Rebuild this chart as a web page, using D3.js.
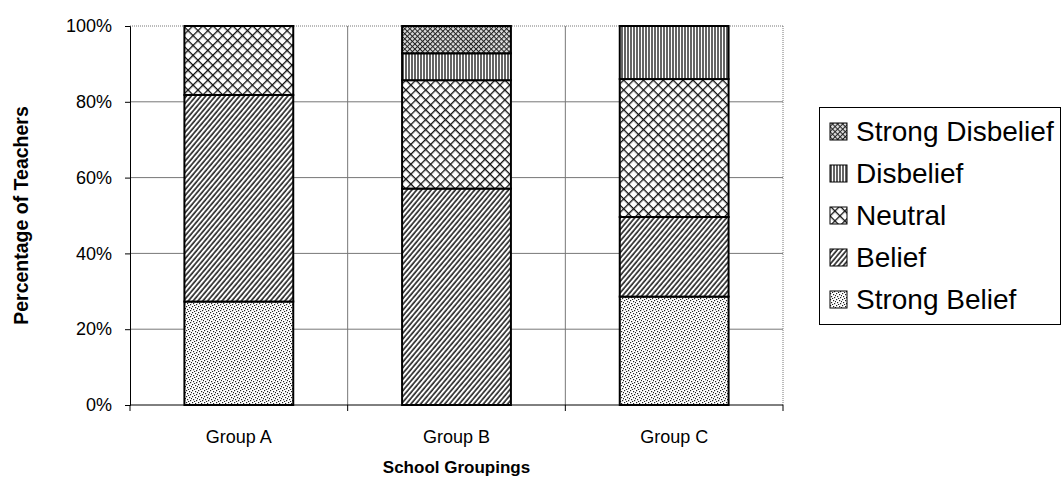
<!DOCTYPE html>
<html><head><meta charset="utf-8">
<script src="https://cdn.jsdelivr.net/npm/d3@7"></script>
<style>
body{margin:0;background:#fff;}
svg{display:block;font-family:Arial,"Liberation Sans",sans-serif;}
</style></head>
<body><svg id="c" width="1063" height="479"></svg>
<script>
const groups = ["Group A","Group B","Group C"];
const strongBelief    = [27.3, 0,    28.6];
const belief          = [54.5, 57.1, 21.0];
const neutral         = [18.2, 28.6, 36.4];
const disbelief       = [0,    7.1,  14.0];
const strongDisbelief = [0,    7.2,  0];
const seriesNames = ["Strong Belief","Belief","Neutral","Disbelief","Strong Disbelief"];
const yTicks = [0,0.2,0.4,0.6,0.8,1];

const seriesVals = [strongBelief, belief, neutral, disbelief, strongDisbelief];
const table = groups.map((g,i)=>{const o={group:g}; seriesNames.forEach((s,k)=>o[s]=seriesVals[k][i]/100); return o;});
const stacked = d3.stack().keys(seriesNames)(table);

const svg = d3.select("#c");
const L=130,R=783,T=26,B=405;
const x = d3.scaleBand().domain(groups).range([L,R]).padding(0);
const y = d3.scaleLinear().domain([0,1]).range([B,T]);

// patterns
const defs = svg.append("defs");
const pid = {"Strong Belief":"pSB","Belief":"pB","Neutral":"pN","Disbelief":"pD","Strong Disbelief":"pSD"};
{
  const p = defs.append("pattern").attr("id","pSB").attr("patternUnits","userSpaceOnUse").attr("width",6).attr("height",6);
  p.append("rect").attr("width",6).attr("height",6).attr("fill","#fff");
  [[0,0],[3,1],[1,3],[4,4],[2,5],[5,2]].forEach(([a,b])=>p.append("rect").attr("x",a).attr("y",b).attr("width",1.2).attr("height",1.2).attr("fill","#222"));
}
{
  const w=3.7;
  const p = defs.append("pattern").attr("id","pB").attr("patternUnits","userSpaceOnUse").attr("width",w).attr("height",10).attr("patternTransform","rotate(40)");
  p.append("rect").attr("width",w).attr("height",10).attr("fill","#fff");
  p.append("line").attr("x1",1).attr("x2",1).attr("y1",0).attr("y2",10).attr("stroke","#111").attr("stroke-width",1.5);
}
{
  const s=7;
  const p = defs.append("pattern").attr("id","pN").attr("patternUnits","userSpaceOnUse").attr("width",s).attr("height",s).attr("patternTransform","rotate(45)");
  p.append("rect").attr("width",s).attr("height",s).attr("fill","#fff");
  p.append("line").attr("x1",0).attr("x2",s).attr("y1",0.6).attr("y2",0.6).attr("stroke","#111").attr("stroke-width",1.4);
  p.append("line").attr("y1",0).attr("y2",s).attr("x1",0.6).attr("x2",0.6).attr("stroke","#111").attr("stroke-width",1.4);
}
{
  const p = defs.append("pattern").attr("id","pD").attr("patternUnits","userSpaceOnUse").attr("width",3).attr("height",10);
  p.append("rect").attr("width",3).attr("height",10).attr("fill","#fff");
  p.append("line").attr("x1",1).attr("x2",1).attr("y1",0).attr("y2",10).attr("stroke","#111").attr("stroke-width",1.3);
}
{
  const s=3.6;
  const p = defs.append("pattern").attr("id","pSD").attr("patternUnits","userSpaceOnUse").attr("width",s).attr("height",s).attr("patternTransform","rotate(45)");
  p.append("rect").attr("width",s).attr("height",s).attr("fill","#ddd");
  p.append("line").attr("x1",0).attr("x2",s).attr("y1",0.5).attr("y2",0.5).attr("stroke","#222").attr("stroke-width",1);
  p.append("line").attr("y1",0).attr("y2",s).attr("x1",0.5).attr("x2",0.5).attr("stroke","#222").attr("stroke-width",1);
}

// gridlines
const grid = svg.append("g");
grid.selectAll("line.h").data(yTicks.filter(v=>v>0 && v<1)).join("line")
  .attr("x1",L).attr("x2",R).attr("y1",d=>y(d)).attr("y2",d=>y(d)).attr("stroke","#777").attr("stroke-width",1);
grid.append("line").attr("x1",L).attr("x2",R).attr("y1",y(1)).attr("y2",y(1)).attr("stroke","#777").attr("stroke-dasharray","1,1");
const bounds = groups.slice(1).map(g=>x(g)).concat([R]);
grid.selectAll("line.v").data(bounds).join("line")
  .attr("x1",d=>d).attr("x2",d=>d).attr("y1",T).attr("y2",B).attr("stroke","#777").attr("stroke-width",1)
  .attr("stroke-dasharray",(d,i)=>i===bounds.length-1?"1,1":null);

// bars
const bw = x.bandwidth()*0.5;
stacked.forEach(layer=>{
  svg.append("g").selectAll("rect").data(layer.filter(d=>d[1]-d[0]>0)).join("rect")
    .attr("x",d=>x(d.data.group)+x.bandwidth()/2-bw/2)
    .attr("width",bw)
    .attr("y",d=>y(d[1]))
    .attr("height",d=>y(d[0])-y(d[1]))
    .attr("fill",`url(#${pid[layer.key]})`)
    .attr("stroke","#000").attr("stroke-width",2);
});

// y axis
const ya = svg.append("g").attr("transform",`translate(${L},0)`)
  .call(d3.axisLeft(y).tickValues(yTicks).tickFormat(d3.format(".0%")).tickSize(5).tickPadding(13));
ya.select(".domain").attr("stroke","#000");
ya.selectAll("text").attr("font-size",18).attr("fill","#000").attr("font-family","Arial, 'Liberation Sans', sans-serif");

// x axis: ticks at category boundaries
const xa = svg.append("g").attr("transform",`translate(0,${B})`);
xa.append("line").attr("x1",L).attr("x2",R).attr("stroke","#000");
xa.selectAll("line.t").data([L].concat(bounds)).join("line")
  .attr("x1",d=>d).attr("x2",d=>d).attr("y1",0).attr("y2",6).attr("stroke","#000");
xa.selectAll("text").data(groups).join("text")
  .attr("x",d=>x(d)+x.bandwidth()/2).attr("y",38).attr("text-anchor","middle")
  .attr("font-size",18).text(d=>d);

// axis titles
svg.append("text").attr("x",(L+R)/2).attr("y",473).attr("text-anchor","middle")
  .attr("font-size",17).attr("font-weight","bold").text("School Groupings");
svg.append("text").attr("transform",`translate(28,${(T+B)/2}) rotate(-90)`).attr("text-anchor","middle")
  .attr("font-size",19.5).attr("font-weight","bold").text("Percentage of Teachers");

// legend
const lg = svg.append("g");
lg.append("rect").attr("x",819.5).attr("y",107.5).attr("width",241).attr("height",217).attr("fill","#fff").attr("stroke","#000");
const legendOrder = seriesNames.slice().reverse();
const items = lg.selectAll("g").data(legendOrder).join("g").attr("transform",(d,i)=>`translate(830,${131+42*i})`);
items.append("rect").attr("x",0).attr("y",-8).attr("width",17).attr("height",17).attr("fill",d=>`url(#${pid[d]})`).attr("stroke","#000").attr("stroke-width",1);
items.append("text").attr("x",26).attr("y",0).attr("dy","0.35em").attr("font-size",28).text(d=>d);
</script></body></html>
